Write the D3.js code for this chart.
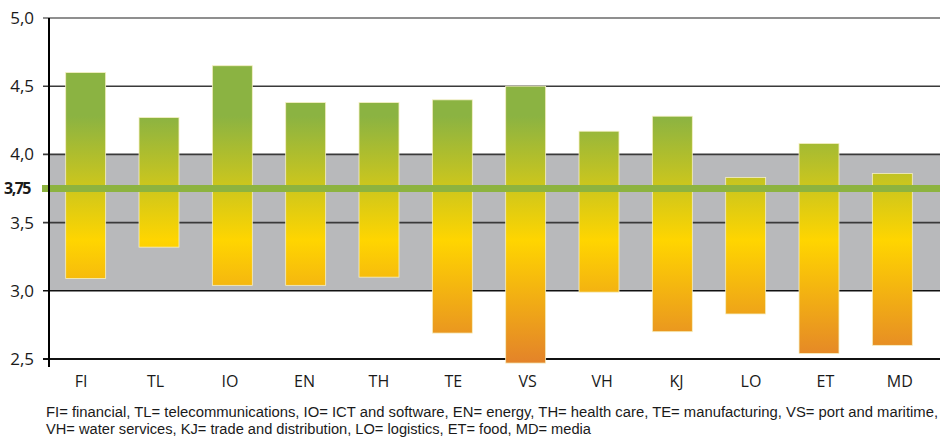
<!DOCTYPE html>
<html>
<head>
<meta charset="utf-8">
<script src="https://cdn.jsdelivr.net/npm/d3@7"></script>
<style>
  body { margin: 0; background: #fff; }
  svg { display: block; font-family: "Open Sans", "Liberation Sans", sans-serif; }
</style>
</head>
<body>
<svg id="chart" width="940" height="437"></svg>
<script>
// range bars per sector, against the 3,75 reference level
const sectors = ["FI", "TL", "IO", "EN", "TH", "TE", "VS", "VH", "KJ", "LO", "ET", "MD"];
const highs = [4.60, 4.27, 4.65, 4.38, 4.38, 4.40, 4.50, 4.17, 4.28, 3.83, 4.08, 3.86];
const lows = [3.09, 3.32, 3.04, 3.04, 3.10, 2.69, 2.47, 2.99, 2.70, 2.83, 2.54, 2.60];
const yTicks = [2.5, 3.0, 3.5, 4.0, 4.5, 5.0];
const reference = 3.75;
const band = [3.0, 4.0];
const footnote = [
    "FI= financial, TL= telecommunications, IO= ICT and software, EN= energy, TH= health care, TE= manufacturing, VS= port and maritime,",
    "VH= water services, KJ= trade and distribution, LO= logistics, ET= food, MD= media"
];

(function () {
    const svg = d3.select("#chart");
    const left = 49, right = 940;

    const y = d3.scaleLinear().domain([2.5, 5.0]).range([359, 18]);
    const x = d3.scaleBand().domain(sectors).range([49, 929]).paddingInner(0.455).paddingOuter(0.2275);
    const xLabel = d3.scaleBand().domain(sectors).range([44, 937]);

    const fmt = v => d3.format(".1f")(v).replace(".", ",");

    // grey band 3,0 - 4,0
    svg.append("rect")
        .attr("x", left)
        .attr("y", y(band[1]))
        .attr("width", right - left)
        .attr("height", y(band[0]) - y(band[1]))
        .style("fill", "#b8b9bb");

    // gridlines
    svg.append("g")
        .selectAll("line")
        .data(yTicks)
        .join("line")
        .attr("x1", 43)
        .attr("x2", right)
        .attr("y1", d => y(d))
        .attr("y2", d => y(d))
        .style("stroke", d => d === 5.0 ? "#6a6a6a" : (d <= 3.0 ? "#111" : "#3a3a3a"))
        .style("stroke-width", d => d === 2.5 ? 2 : 1.6);

    // tick labels
    svg.append("g")
        .selectAll("text")
        .data(yTicks)
        .join("text")
        .attr("x", 34)
        .attr("y", d => y(d))
        .attr("dy", "0.35em")
        .style("text-anchor", "end")
        .style("font-size", "17px")
        .style("fill", "#1a1a1a")
        .text(fmt);

    // gradient follows absolute height, green above, yellow middle, orange bottom
    const defs = svg.append("defs");
    const grad = defs.append("linearGradient")
        .attr("id", "barGrad")
        .attr("gradientUnits", "userSpaceOnUse")
        .attr("x1", 0).attr("x2", 0)
        .attr("y1", y(4.28)).attr("y2", y(2.46));
    grad.selectAll("stop")
        .data([
            { o: "0%", c: "#8bb342" },
            { o: "50%", c: "#ffd500" },
            { o: "100%", c: "#e3822a" }
        ])
        .join("stop")
        .attr("offset", d => d.o)
        .attr("stop-color", d => d.c);

    const rows = sectors.map((s, i) => ({ s, hi: highs[i], lo: lows[i] }));

    svg.append("g")
        .selectAll("rect")
        .data(rows)
        .join("rect")
        .attr("x", d => x(d.s))
        .attr("y", d => y(d.hi))
        .attr("width", x.bandwidth())
        .attr("height", d => y(d.lo) - y(d.hi))
        .style("fill", "url(#barGrad)")
        .style("stroke", "#f6f0c4")
        .style("stroke-width", 0.8);

    // reference line
    svg.append("line")
        .attr("x1", 42)
        .attr("x2", right)
        .attr("y1", y(reference))
        .attr("y2", y(reference))
        .style("stroke", "#8db33f")
        .style("stroke-width", 7);

    svg.append("text")
        .attr("x", 4)
        .attr("y", y(reference))
        .attr("dy", "0.35em")
        .style("font-size", "16px")
        .style("font-weight", "bold")
        .style("letter-spacing", "-1.5px")
        .style("fill", "#1a1a1a")
        .text(d3.format(".2f")(reference).replace(".", ","));

    // y axis line
    svg.append("line")
        .attr("x1", left).attr("x2", left)
        .attr("y1", y(5.0)).attr("y2", 367)
        .style("stroke", "#000")
        .style("stroke-width", 2);

    // category labels
    svg.append("g")
        .selectAll("text")
        .data(sectors)
        .join("text")
        .attr("x", d => xLabel(d) + xLabel.bandwidth() / 2)
        .attr("y", 387)
        .style("text-anchor", "middle")
        .style("font-size", "16px")
        .style("fill", "#1a1a1a")
        .text(d => d);

    // footnote
    svg.append("g")
        .selectAll("text")
        .data(footnote)
        .join("text")
        .attr("x", 46)
        .attr("y", (d, i) => 417 + i * 17)
        .attr("textLength", (d, i) => i === 0 ? 892 : 545)
        .attr("lengthAdjust", "spacingAndGlyphs")
        .style("font-family", "'Liberation Sans', sans-serif")
        .style("font-size", "14px")
        .style("fill", "#1a1a1a")
        .text(d => d);
})();
</script>
</body>
</html>
